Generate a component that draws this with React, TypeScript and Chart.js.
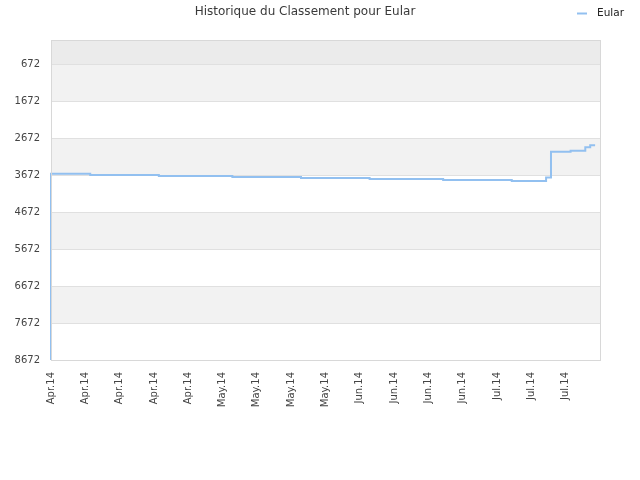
import React, { useRef, useEffect } from "react";
import { Chart, registerables } from "chart.js";

Chart.register(...registerables);

const TITLE = "Historique du Classement pour Eular";
const SERIES_NAME = "Eular";
const LINE_COLOR = "#92c0f0";

// one category per day, Apr 1 -> Jul 22 2014; a tick label every 7th day
const START_DAY = new Date(2014, 3, 1);
const DAY_COUNT = 113;
const days: string[] = Array.from({ length: DAY_COUNT }, (_, i) => {
  const d = new Date(START_DAY.getTime() + i * 86400000);
  return d.toISOString().slice(0, 10);
});

const tickLabels = [
  "Apr.14", "Apr.14", "Apr.14", "Apr.14", "Apr.14",
  "May.14", "May.14", "May.14", "May.14",
  "Jun.14", "Jun.14", "Jun.14", "Jun.14",
  "Jul.14", "Jul.14", "Jul.14",
];

const yTicks = [672, 1672, 2672, 3672, 4672, 5672, 6672, 7672, 8672];

// daily rank (lower = better)
const ranks = [
  8672,
  3628, 3628, 3628, 3628, 3628, 3628, 3628, 3628,
  3656, 3656, 3656, 3656, 3656, 3656, 3656, 3656, 3656, 3656, 3656, 3656, 3656, 3656,
  3683, 3683, 3683, 3683, 3683, 3683, 3683, 3683, 3683, 3683, 3683, 3683, 3683, 3683, 3683,
  3710, 3710, 3710, 3710, 3710, 3710, 3710, 3710, 3710, 3710, 3710, 3710, 3710, 3710,
  3737, 3737, 3737, 3737, 3737, 3737, 3737, 3737, 3737, 3737, 3737, 3737, 3737, 3737,
  3764, 3764, 3764, 3764, 3764, 3764, 3764, 3764, 3764, 3764, 3764, 3764, 3764, 3764, 3764,
  3791, 3791, 3791, 3791, 3791, 3791, 3791, 3791, 3791, 3791, 3791, 3791, 3791, 3791,
  3818, 3818, 3818, 3818, 3818, 3818, 3818,
  3723,
  3030, 3030, 3030, 3030,
  3000, 3000, 3000,
  2905,
  2850,
];

const bandsPlugin = {
  id: "bands",
  beforeDraw(chart: any) {
    const { ctx, chartArea } = chart;
    const y = chart.scales.y;
    const edges = [0, ...yTicks];
    ctx.save();
    for (let k = 0; k < edges.length - 1; k++) {
      const y0 = y.getPixelForValue(edges[k]);
      const y1 = y.getPixelForValue(edges[k + 1]);
      ctx.fillStyle = k === 0 ? "#ebebeb" : k % 2 === 1 ? "#f2f2f2" : "#ffffff";
      ctx.fillRect(chartArea.left, y0, chartArea.right - chartArea.left, y1 - y0);
    }
    ctx.restore();
  },
  afterDraw(chart: any) {
    const { ctx, chartArea } = chart;
    ctx.save();
    // frame
    ctx.strokeStyle = "#d8d8d8";
    ctx.lineWidth = 1;
    ctx.strokeRect(chartArea.left + 0.5, chartArea.top + 0.5,
      chartArea.right - chartArea.left, chartArea.bottom - chartArea.top);
    // title
    ctx.fillStyle = "#3a3a3a";
    ctx.font = "12px 'DejaVu Sans', sans-serif";
    ctx.textAlign = "center";
    ctx.textBaseline = "middle";
    ctx.fillText(TITLE, 305, 12);
    // legend
    const ds = chart.data.datasets[0];
    ctx.strokeStyle = ds.borderColor;
    ctx.lineWidth = 2;
    ctx.beginPath();
    ctx.moveTo(577, 13.5);
    ctx.lineTo(587, 13.5);
    ctx.stroke();
    ctx.fillStyle = "#222222";
    ctx.textAlign = "left";
    ctx.font = "10.5px 'DejaVu Sans', sans-serif";
    ctx.fillText(ds.label, 597, 13);
    ctx.restore();
  },
};

export default function App() {
  const canvas = useRef<HTMLCanvasElement>(null);

  useEffect(() => {
    document.body.style.margin = "0";
    const ctx = canvas.current!.getContext("2d");
    if (!ctx) return;
    Chart.defaults.font.family = "'DejaVu Sans', sans-serif";

    const chart = new Chart(ctx, {
      type: "line",
      data: {
        labels: days,
        datasets: [
          {
            label: SERIES_NAME,
            data: ranks,
            borderColor: LINE_COLOR,
            backgroundColor: LINE_COLOR,
            borderWidth: 2,
            pointRadius: 0,
            stepped: "after",
            fill: false,
          },
        ],
      },
      options: {
        responsive: false,
        animation: false,
        layout: { padding: { top: 40, right: 40, left: 1, bottom: 0 } },
        plugins: {
          legend: { display: false },
          title: { display: false },
          tooltip: { enabled: false },
        },
        scales: {
          x: {
            type: "category",
            grid: { display: false, drawTicks: false },
            border: { display: true, color: "#d8d8d8" },
            ticks: {
              autoSkip: false,
              maxRotation: 90,
              minRotation: 90,
              padding: 12,
              color: "#444444",
              font: { size: 10 },
              callback: (_v: any, i: number) =>
                i % 7 === 0 ? tickLabels[i / 7] : null,
            },
            afterFit: (scale: any) => {
              scale.height = 120;
            },
          },
          y: {
            type: "linear",
            reverse: true,
            min: 0,
            max: 8672,
            afterBuildTicks: (scale: any) => {
              scale.ticks = yTicks.map((v) => ({ value: v }));
            },
            grid: { color: "#e0e0e0", drawTicks: false },
            border: { display: true, color: "#d8d8d8" },
            ticks: {
              padding: 11,
              color: "#444444",
              font: { size: 10 },
              callback: (v: any) => String(v),
            },
            afterFit: (scale: any) => {
              scale.width = 50;
            },
          },
        },
      },
      plugins: [bandsPlugin],
    });

    return () => {
      chart.destroy();
    };
  }, []);

  return (
    <div style={{ width: 640, height: 480 }}>
      <canvas ref={canvas} width={640} height={480} />
    </div>
  );
}
